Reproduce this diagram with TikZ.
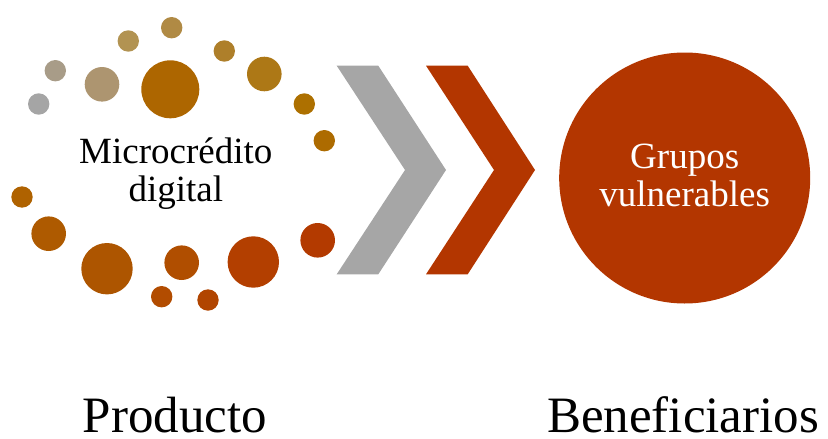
\documentclass[tikz,border=0pt]{standalone}
\usepackage{fontspec}
\setmainfont{Liberation Serif}

\definecolor{dotgray}{HTML}{A5A5A5}
\definecolor{dottaupe}{HTML}{A89C88}
\definecolor{dottan}{HTML}{AD9570}
\definecolor{dotsand}{HTML}{B29352}
\definecolor{dotochre}{HTML}{B08A44}
\definecolor{dotamber}{HTML}{AD6600}
\definecolor{dotgold}{HTML}{AE7F2A}
\definecolor{dotmustard}{HTML}{AD7816}
\definecolor{dotcopper}{HTML}{AD7000}
\definecolor{dotbronze}{HTML}{AD6B00}
\definecolor{dotrust}{HTML}{AF6200}
\definecolor{dotcinnamon}{HTML}{AE5A00}
\definecolor{dotsienna}{HTML}{AD5500}
\definecolor{dotbrick}{HTML}{B04E00}
\definecolor{dotember}{HTML}{B24C00}
\definecolor{dotflame}{HTML}{B14500}
\definecolor{dotauburn}{HTML}{B33F00}
\definecolor{dotscarlet}{HTML}{B33A00}
\definecolor{vulnred}{HTML}{B33600}
\definecolor{chevgray}{HTML}{A6A6A6}

\begin{document}
\begin{tikzpicture}[x=1pt,y=-1pt]

 \tikzset{
    dot/.style={circle, inner sep=0pt},
    small/.style={dot, minimum size=21.4pt},
    medium/.style={dot, minimum size=34.6pt},
    large/.style={dot, minimum size=51.4pt},
    huge/.style={dot, minimum size=58pt},
    label/.style={font=\fontsize{37}{38.7}\selectfont, align=center},
    caption/.style={font=\fontsize{51}{54}\selectfont, anchor=base, inner sep=0pt, text depth=0pt},
  }

  \useasboundingbox (0,0) rectangle (828,439);

  % anillo de puntos
  \node[small, fill=dotgray] (d1) at (38.7,104) {};
  \node[small, fill=dottaupe] (d2) at (55.3,70.7) {};
  \node[medium, fill=dottan] (d3) at (102,84.3) {};
  \node[small, fill=dotsand] (d4) at (128.3,41) {};
  \node[small, fill=dotochre] (d5) at (171.7,27.7) {};
  \node[huge, fill=dotamber] (d6) at (170.3,89.3) {};
  \node[small, fill=dotgold] (d7) at (224.3,51) {};
  \node[medium, fill=dotmustard] (d8) at (264.3,74) {};
  \node[small, fill=dotcopper] (d9) at (304.3,104) {};
  \node[small, fill=dotbronze] (d10) at (324.3,140.7) {};
  \node[small, fill=dotrust] (d11) at (22,197) {};
  \node[medium, fill=dotcinnamon] (d12) at (48.7,233.7) {};
  \node[large, fill=dotsienna] (d13) at (107,268.7) {};
  \node[medium, fill=dotbrick] (d14) at (181.7,262.7) {};
  \node[small, fill=dotember] (d15) at (161.7,296.7) {};
  \node[small, fill=dotflame] (d16) at (208,300) {};
  \node[large, fill=dotauburn] (d17) at (253.3,262) {};
  \node[medium, fill=dotscarlet] (d18) at (317.7,240.3) {};

  \node[label, anchor=base] (producto) at (175.8,201.7) {Microcrédito\\digital};

  % flechas
  \fill[chevgray] (336.7,65.7) -- (378.3,65.7) -- (446,170) -- (378.3,274.3)
    -- (336.7,274.3) -- (405,170) -- cycle;
  \fill[vulnred] (426,65.7) -- (467.7,65.7) -- (535,170) -- (467.7,274.3)
    -- (426,274.3) -- (494,170) -- cycle;

  \node[circle, fill=vulnred, minimum size=251pt, inner sep=0pt] (grupos) at (684.7,178) {};
  \node[label, text=white, anchor=base] (gruposlabel) at (684.7,206.7) {Grupos\\vulnerables};

  \node[caption] (prod) at (175,432) {Producto};
  \node[caption] (benef) at (683,432) {Beneficiarios};
\end{tikzpicture}
\end{document}
